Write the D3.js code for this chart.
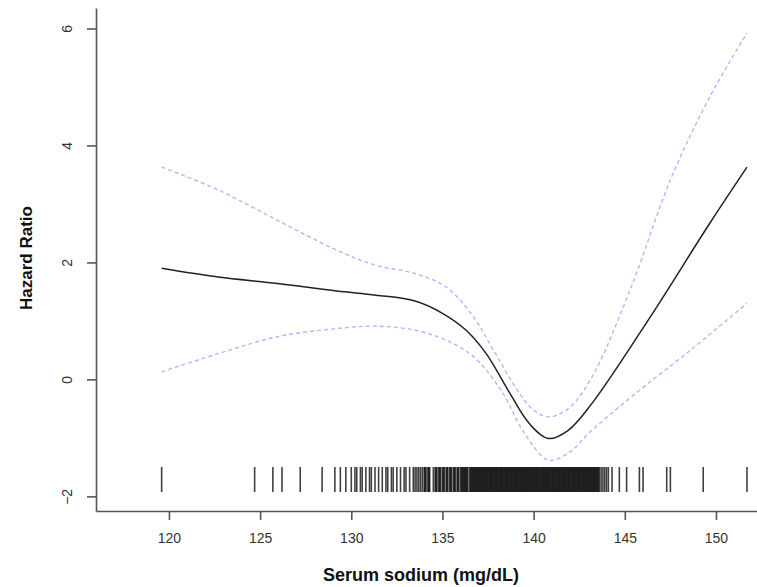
<!DOCTYPE html>
<html>
<head>
<meta charset="utf-8">
<script src="https://cdn.jsdelivr.net/npm/d3@7.9.0/dist/d3.min.js"></script>
<style>
  body { margin: 0; background: #fff; }
  svg { display: block; font-family: "Liberation Sans", Arial, sans-serif; }
</style>
</head>
<body>
<div id="chart"></div>
<script>
// sodium (mg/dL) and fitted hazard ratio with confidence bounds
const sodium = [119.6, 122.7, 125.95, 129.2, 131.35, 133.5, 135.0, 136.3, 137.4, 138.7, 139.75, 140.8, 141.9, 143.2, 146.4, 149.66, 151.7];
const hr = [1.90, 1.75, 1.64, 1.51, 1.44, 1.34, 1.13, 0.84, 0.44, -0.24, -0.75, -1.01, -0.87, -0.41, 1.07, 2.67, 3.63];

const ciX = [119.6, 122.7, 125.95, 129.2, 131.35, 133.5, 135.2, 136.7, 137.8, 139.1, 139.97, 140.8, 141.9, 143.2, 145.35, 147.5, 149.66, 151.7];
const upper = [3.63, 3.24, 2.72, 2.21, 1.95, 1.81, 1.58, 1.07, 0.50, -0.18, -0.52, -0.64, -0.50, 0.04, 1.58, 3.41, 4.83, 5.92];

const ciXLow = [119.6, 122.7, 125.95, 129.2, 131.35, 133.5, 135.2, 136.7, 138.2, 139.5, 140.8, 141.9, 143.2, 145.35, 148.6, 151.7];
const lower = [0.13, 0.44, 0.73, 0.87, 0.91, 0.84, 0.67, 0.39, -0.18, -0.92, -1.38, -1.26, -0.87, -0.30, 0.50, 1.30];

// observed sodium values (rug)
const rug = [119.6, 124.7, 125.7, 126.2, 127.2, 128.4, 129.1, 129.4, 129.7,
  130.0, 130.2, 130.3, 130.5, 130.6, 130.8, 131.0, 131.1, 131.3, 131.5, 131.7, 131.9,
  132.0, 132.2, 132.3, 132.5, 132.7, 132.9, 133.0, 133.2, 133.4, 133.5, 133.6, 133.7, 133.8, 133.9,
  134.0, 134.1, 134.2, 134.3, 134.5, 134.6, 134.7, 134.8, 134.9,
  135.0, 135.1, 135.2, 135.3, 135.4, 135.5, 135.6, 135.7, 135.8, 135.9,
  136.0, 136.1, 136.2, 136.3, 136.4, 136.5, 136.6, 136.7, 136.8, 136.9,
  137.0, 137.1, 137.2, 137.3, 137.4, 137.5, 137.6, 137.7, 137.8, 137.9,
  138.0, 138.1, 138.2, 138.3, 138.4, 138.5, 138.6, 138.7, 138.8, 138.9,
  139.0, 139.1, 139.2, 139.3, 139.4, 139.5, 139.6, 139.7, 139.8, 139.9,
  140.0, 140.1, 140.2, 140.3, 140.4, 140.5, 140.6, 140.7, 140.8, 140.9,
  141.0, 141.1, 141.2, 141.3, 141.4, 141.5, 141.6, 141.7, 141.8, 141.9,
  142.0, 142.1, 142.2, 142.3, 142.4, 142.5, 142.6, 142.7, 142.8, 142.9,
  143.0, 143.1, 143.2, 143.3, 143.4, 143.5, 143.6, 143.7, 143.8, 143.9,
  144.0, 144.1, 144.3, 144.7, 145.1, 145.8, 146.0, 147.3, 147.5, 149.3, 151.7,
  // repeated / closely spaced readings in the crowded middle
  134.05, 134.25, 134.65, 134.85, 135.05, 135.25, 135.45, 135.65, 135.85,
  136.05, 136.15, 136.25, 136.35, 136.55, 136.65, 136.75, 136.85, 136.95,
  137.05, 137.15, 137.25, 137.35, 137.45, 137.55, 137.65, 137.75, 137.85, 137.95,
  138.05, 138.15, 138.25, 138.35, 138.45, 138.55, 138.65, 138.75, 138.85, 138.95,
  139.05, 139.15, 139.25, 139.35, 139.45, 139.55, 139.65, 139.75, 139.85, 139.95,
  140.05, 140.15, 140.25, 140.35, 140.45, 140.55, 140.65, 140.75, 140.85, 140.95,
  141.05, 141.15, 141.25, 141.35, 141.45, 141.55, 141.65, 141.75, 141.85, 141.95,
  142.05, 142.15, 142.25, 142.35, 142.45, 142.55, 142.65, 142.75, 142.85, 142.95,
  143.05, 143.15, 143.25, 143.35, 143.45, 143.55];

const xTicks = [120, 125, 130, 135, 140, 145, 150];
const yTicks = [-2, 0, 2, 4, 6];

const width = 757;
const height = 587;

const svg = d3.select('#chart')
  .append('svg')
  .attr('width', width)
  .attr('height', height);

const xScale = d3.scaleLinear()
  .domain([116, 152.25])
  .range([96, 757]);

const yScale = d3.scaleLinear()
  .domain([-2.25, 6.35])
  .range([511, 8]);

// rug along the bottom of the plot
svg.append('g')
  .attr('class', 'rug')
  .selectAll('line')
  .data(rug)
  .join('line')
  .attr('x1', (d) => xScale(d))
  .attr('x2', (d) => xScale(d))
  .attr('y1', 467)
  .attr('y2', 492)
  .attr('stroke', '#000')
  .attr('stroke-opacity', 0.75)
  .attr('stroke-width', 1.6);

const line = d3.line()
  .x((d) => xScale(d[0]))
  .y((d) => yScale(d[1]))
  .curve(d3.curveCatmullRom.alpha(0.5));

svg.append('path')
  .datum(d3.zip(ciX, upper))
  .attr('d', line)
  .attr('fill', 'none')
  .attr('stroke', '#b4b4ff')
  .attr('stroke-width', 1.4)
  .attr('stroke-dasharray', '4,3');

svg.append('path')
  .datum(d3.zip(ciXLow, lower))
  .attr('d', line)
  .attr('fill', 'none')
  .attr('stroke', '#b4b4ff')
  .attr('stroke-width', 1.4)
  .attr('stroke-dasharray', '4,3');

svg.append('path')
  .datum(d3.zip(sodium, hr))
  .attr('d', line)
  .attr('fill', 'none')
  .attr('stroke', '#222')
  .attr('stroke-width', 1.5);

// axes
const xAxis = svg.append('g')
  .attr('transform', 'translate(0,511)')
  .call(d3.axisBottom(xScale).tickValues(xTicks).tickSize(9).tickSizeOuter(0).tickPadding(13));

const yAxis = svg.append('g')
  .attr('transform', 'translate(96,0)')
  .call(d3.axisLeft(yScale).tickValues(yTicks).tickSize(9).tickSizeOuter(0));

[xAxis, yAxis].forEach((g) => {
  g.select('.domain').attr('stroke', '#555').attr('stroke-width', 1.6);
  g.selectAll('.tick line').attr('stroke', '#555').attr('stroke-width', 1.6);
  g.selectAll('.tick text').attr('fill', '#333').style('font-size', '14px');
});

yAxis.selectAll('.tick text')
  .attr('x', null)
  .attr('dy', null)
  .attr('text-anchor', 'middle')
  .attr('transform', 'translate(-24,0) rotate(-90)');

svg.append('text')
  .attr('x', 421)
  .attr('y', 581)
  .attr('text-anchor', 'middle')
  .style('font-size', '18px')
  .style('font-weight', 'bold')
  .attr('fill', '#111')
  .text('Serum sodium (mg/dL)');

svg.append('text')
  .attr('transform', 'translate(32,258) rotate(-90)')
  .attr('text-anchor', 'middle')
  .style('font-size', '17px')
  .style('font-weight', 'bold')
  .attr('fill', '#111')
  .text('Hazard Ratio');
</script>
</body>
</html>
